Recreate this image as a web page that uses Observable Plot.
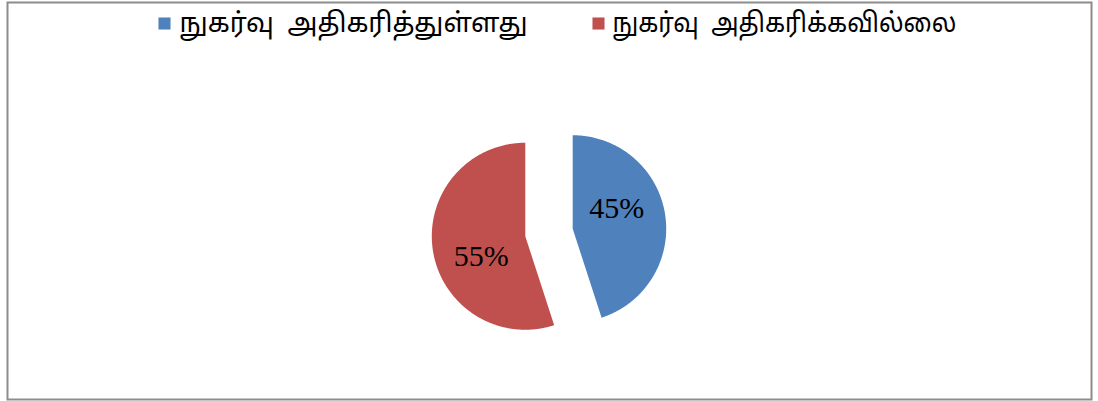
<!DOCTYPE html>
<html><head><meta charset="utf-8">
<script src="https://cdn.jsdelivr.net/npm/d3@7"></script>
<script src="https://cdn.jsdelivr.net/npm/@observablehq/plot@0.6"></script>
<style>body{margin:0;background:#fff} svg{display:block}</style>
</head><body><div id="chart"></div>
<script>
// ---- data ----
const categories = ["நுகர்வு  அதிகரித்துள்ளது", "நுகர்வு  அதிகரிக்கவில்லை"];
const values = [45, 55];
const percentLabels = ["45%", "55%"];
const colors = ["#4f81bd", "#c0504d"];

// ---- layout ----
const W = 1098, H = 401;
const cx = 548.5, cy = 232, R = 93.5, explode = 24;
const labelR = 0.517 * R, labelShift = -15.5 * Math.PI / 180;
const legendX = [164, 598], legendTextX = [179, 612], legendY = 23, legendLen = [348, 344];

const arcs = d3.pie().sort(null).value(d => d)(values);
const slicePts = [];
const labelPts = [];
arcs.forEach((a, i) => {
  const mid = (a.startAngle + a.endAngle) / 2;
  const ox = cx + explode * Math.sin(mid), oy = cy - explode * Math.cos(mid);
  slicePts.push({k: i, x: ox, y: oy});
  const n = Math.max(2, Math.ceil((a.endAngle - a.startAngle) / 0.01));
  for (let j = 0; j <= n; j++) {
    const t = a.startAngle + (a.endAngle - a.startAngle) * j / n;
    slicePts.push({k: i, x: ox + R * Math.sin(t), y: oy - R * Math.cos(t)});
  }
  slicePts.push({k: i, x: ox, y: oy});
  labelPts.push({k: i, text: percentLabels[i], x: ox + labelR * Math.sin(mid + labelShift), y: oy - labelR * Math.cos(mid + labelShift)});
});
const legend = categories.map((c, i) => ({k: i, name: c, x: legendX[i], tx: legendTextX[i], y: legendY}));

const plot = Plot.plot({
  width: W, height: H,
  margin: 0,
  x: {domain: [0, W], range: [0, W], axis: null},
  y: {domain: [0, H], range: [0, H], axis: null},
  color: {domain: [0, 1], range: colors, type: "ordinal"},
  marks: [
    Plot.frame({stroke: "#8c8c8c", strokeWidth: 2, insetLeft: 7, insetRight: 7, insetTop: 2, insetBottom: 2}),
    Plot.line(slicePts, {x: "x", y: "y", z: "k", fill: "k", stroke: "none", curve: "linear"}),
    Plot.text(labelPts, {x: "x", y: "y", text: "text", fontSize: 30, fontFamily: "'Liberation Serif', 'Times New Roman', serif", fill: "#000"}),
    Plot.dot(legend, {x: "x", y: "y", symbol: "square", r: 6.8, fill: "k", stroke: "none"}),
    Plot.text(legend, {x: "tx", y: "y", text: "name", textAnchor: "start", fontSize: 27, fontFamily: "Latha, 'Noto Sans Tamil', 'Lohit Tamil', 'Noto Sans', sans-serif", fill: "#000", className: "legtext"})
  ]
});
document.getElementById("chart").appendChild(plot);
plot.querySelectorAll(".legtext text").forEach((t, i) => {
  t.setAttribute("textLength", legendLen[i]);
  t.setAttribute("lengthAdjust", "spacingAndGlyphs");
  t.style.whiteSpace = "pre";
});
</script>
</body></html>
